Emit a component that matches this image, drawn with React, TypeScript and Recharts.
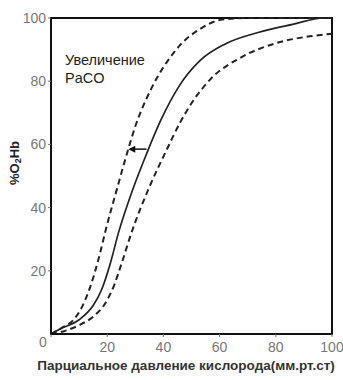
import React from 'react';
import { LineChart, Line, XAxis, YAxis, ReferenceArea, ReferenceLine } from 'recharts';

const solidP = [0, 3, 10, 15, 18, 21, 24, 29, 34, 39, 46, 53, 62, 74, 86, 97, 100];
const solidS = [0, 1.5, 4.5, 9, 14, 22, 32, 45.5, 57, 67.5, 79, 86.5, 91.8, 95.5, 98, 100, 100];

const leftP = [0, 4, 8, 11, 14, 17, 19.5, 23.5, 27, 30.5, 34, 38, 42, 46, 53, 61, 70, 100];
const leftS = [0, 2, 4.5, 8.5, 15, 24, 33, 46, 57, 67, 74.5, 81.5, 87, 91.5, 96.5, 99.5, 100, 100];

const rightP = [0, 5, 10, 15, 19.5, 22.5, 25, 29, 35, 41, 46, 50, 56.6, 68, 80, 92, 100];
const rightS = [0, 1, 2.8, 5.5, 10, 15.5, 22, 33, 46.5, 58, 67, 73, 80.5, 87.7, 92, 94.2, 95];

const xTicks = [0, 20, 40, 60, 80, 100];
const yTicks = [20, 40, 60, 80, 100];

const toPts = (p: number[], s: number[]) => p.map((x, i) => ({ x, y: s[i] }));

const FONT = '"Liberation Sans", Arial, sans-serif';

const XTick = (props: any) => {
  const { x, y, payload } = props;
  const zero = payload.value === 0;
  return (
    <text x={x + (zero ? -8 : 0)} y={y + (zero ? 8 : 13)} textAnchor="middle" fill="#777" fontSize={14} fontFamily={FONT}>
      {payload.value}
    </text>
  );
};

const YTick = (props: any) => {
  const { x, y, payload } = props;
  return (
    <text x={x} y={y + 5} textAnchor="end" fill="#777" fontSize={14} fontFamily={FONT}>
      {payload.value}
    </text>
  );
};

const ArrowShape = (props: any) => {
  const { x1, y1, x2, y2 } = props;
  return (
    <g>
      <line x1={x1} y1={y1} x2={x2 + 4} y2={y2} stroke="#111" strokeWidth={1.5} />
      <path d={`M${x2},${y2} L${x2 + 7},${y2 - 3.5} L${x2 + 7},${y2 + 3.5} Z`} fill="#111" />
    </g>
  );
};

export default function App() {
  return (
    <div style={{ position: 'absolute', left: 0, top: 0, background: '#fff' }}>
      <LineChart width={343} height={380} margin={{ top: 18, right: 11, bottom: 0, left: 0 }}>
        <XAxis
          type="number"
          dataKey="x"
          domain={[0, 100]}
          ticks={xTicks}
          interval={0}
          tick={<XTick />}
          tickSize={3}
          axisLine={{ stroke: '#111', strokeWidth: 2 }}
          tickLine={{ stroke: '#777' }}
          height={46}
          allowDuplicatedCategory={false}
        />
        <YAxis
          type="number"
          dataKey="y"
          domain={[0, 100]}
          ticks={yTicks}
          interval={0}
          tick={<YTick />}
          tickSize={3}
          width={51}
          axisLine={{ stroke: '#111', strokeWidth: 2 }}
          tickLine={{ stroke: '#777' }}
        />
        <ReferenceArea x1={0} x2={100} y1={0} y2={100} fill="none" stroke="#111" strokeWidth={2} ifOverflow="visible" />
        <Line data={toPts(leftP, leftS)} dataKey="y" type="monotone" stroke="#222" strokeWidth={2} strokeDasharray="6 4" dot={false} isAnimationActive={false} />
        <Line data={toPts(solidP, solidS)} dataKey="y" type="monotone" stroke="#222" strokeWidth={1.7} dot={false} isAnimationActive={false} />
        <Line data={toPts(rightP, rightS)} dataKey="y" type="monotone" stroke="#222" strokeWidth={2} strokeDasharray="6 4" dot={false} isAnimationActive={false} />
        <ReferenceLine segment={[{ x: 34, y: 58.5 }, { x: 27.5, y: 58.5 }]} shape={<ArrowShape />} ifOverflow="visible" />
        <text x={65} y={65} fontSize={14.5} fontFamily={FONT} fill="#222">Увеличение</text>
        <text x={65} y={83} fontSize={14.5} fontFamily={FONT} fill="#222">PaCO</text>
        <text transform="translate(19,163) rotate(-90)" textAnchor="middle" fontSize={13} fontWeight="bold" fontFamily={FONT} fill="#222">
          %O<tspan fontSize={9} dy={2}>2</tspan><tspan dy={-2}>Hb</tspan>
        </text>
        <text x={186} y={370} textAnchor="middle" fontSize={13.5} fontWeight="bold" fontFamily={FONT} fill="#333">
          Парциальное давление кислорода(мм.рт.ст)
        </text>
      </LineChart>
    </div>
  );
}
